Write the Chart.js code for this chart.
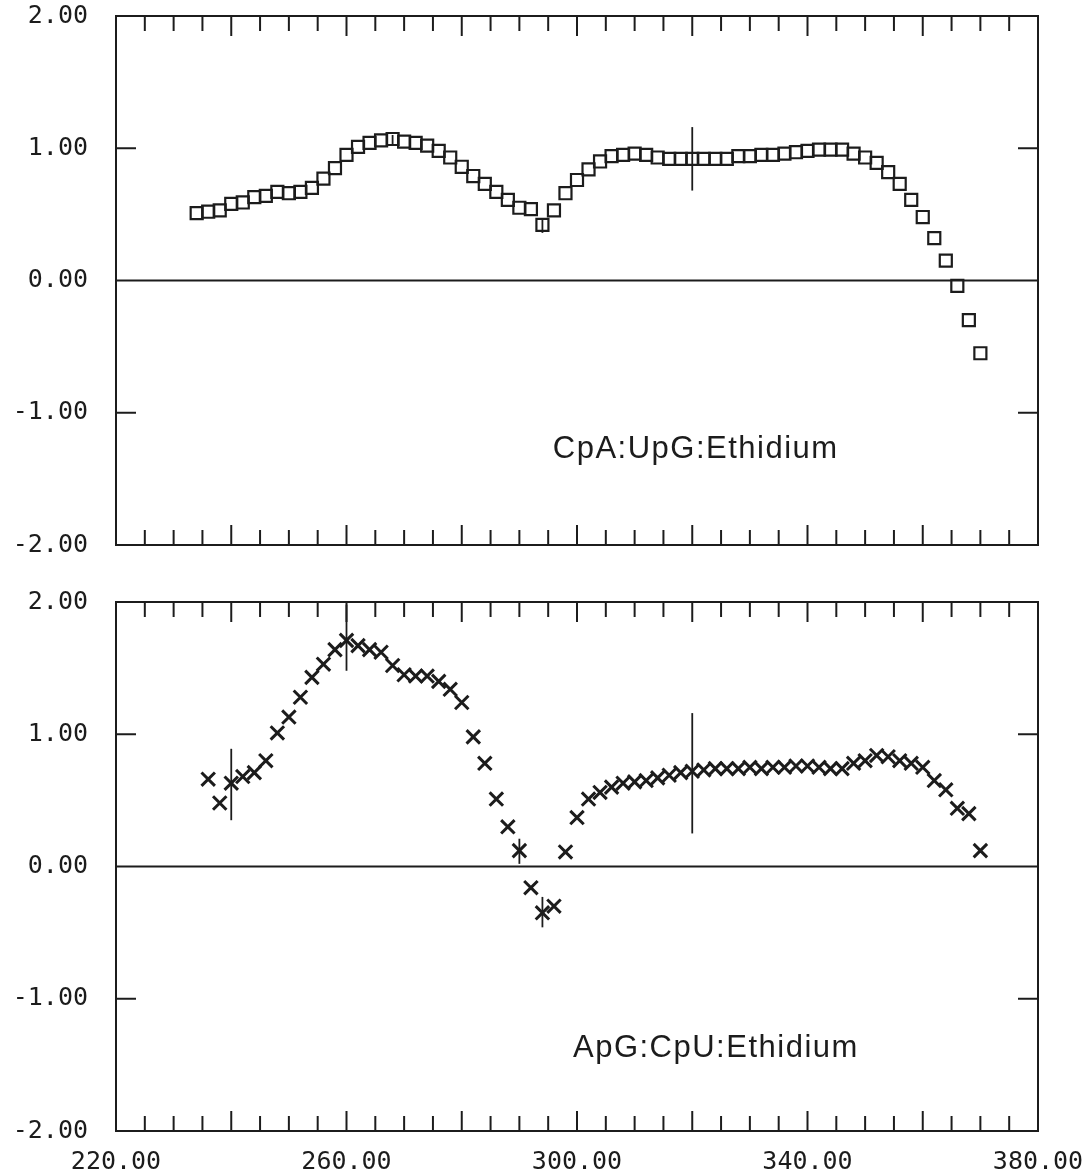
<!DOCTYPE html>
<html>
<head>
<meta charset="utf-8">
<script src="https://cdn.jsdelivr.net/npm/chart.js@4.4.1/dist/chart.umd.min.js"></script>
<style>
  html, body { margin: 0; padding: 0; background: #fff; }
  #wrap { position: relative; width: 1091px; height: 1172px; }
  canvas { position: absolute; left: 0; }
  #top { top: 0; }
  #bottom { top: 575px; }
</style>
</head>
<body>
<div id="wrap">
  <canvas id="top" width="1091" height="575"></canvas>
  <canvas id="bottom" width="1091" height="597"></canvas>
</div>
<script>
// --- data ---
const topX = [234, 236, 238, 240, 242, 244, 246, 248, 250, 252, 254, 256, 258, 260, 262, 264, 266, 268,
  270, 272, 274, 276, 278, 280, 282, 284, 286, 288, 290, 292, 294, 296, 298, 300, 302, 304, 306, 308,
  310, 312, 314, 316, 318, 320, 322, 324, 326, 328, 330, 332, 334, 336, 338, 340, 342, 344, 346, 348,
  350, 352, 354, 356, 358, 360, 362, 364, 366, 368, 370];
const topY = [0.51, 0.52, 0.53, 0.58, 0.59, 0.63, 0.64, 0.67, 0.66, 0.67, 0.70, 0.77, 0.85, 0.95, 1.01, 1.04, 1.06, 1.07,
  1.05, 1.04, 1.02, 0.98, 0.93, 0.86, 0.79, 0.73, 0.67, 0.61, 0.55, 0.54, 0.42, 0.53, 0.66, 0.76, 0.84, 0.90, 0.94, 0.95,
  0.96, 0.95, 0.93, 0.92, 0.92, 0.92, 0.92, 0.92, 0.92, 0.94, 0.94, 0.95, 0.95, 0.96, 0.97, 0.98, 0.99, 0.99, 0.99, 0.96,
  0.93, 0.89, 0.82, 0.73, 0.61, 0.48, 0.32, 0.15, -0.04, -0.30, -0.55];

const bottomX = [236, 238, 240, 242, 244, 246, 248, 250, 252, 254, 256, 258, 260, 262, 264, 266, 268,
  270, 272, 274, 276, 278, 280, 282, 284, 286, 288, 290, 292, 294, 296, 298, 300, 302, 304, 306, 308,
  310, 312, 314, 316, 318, 320, 322, 324, 326, 328, 330, 332, 334, 336, 338, 340, 342, 344, 346, 348,
  350, 352, 354, 356, 358, 360, 362, 364, 366, 368, 370];
const bottomY = [0.66, 0.48, 0.63, 0.68, 0.71, 0.80, 1.01, 1.13, 1.28, 1.43, 1.53, 1.64, 1.71, 1.67, 1.64, 1.62, 1.52,
  1.45, 1.44, 1.44, 1.40, 1.34, 1.24, 0.98, 0.78, 0.51, 0.30, 0.12, -0.16, -0.35, -0.30, 0.11, 0.37, 0.51, 0.56, 0.60, 0.63,
  0.64, 0.65, 0.67, 0.69, 0.71, 0.72, 0.73, 0.74, 0.74, 0.74, 0.75, 0.74, 0.75, 0.75, 0.76, 0.76, 0.75, 0.74, 0.74, 0.78,
  0.80, 0.84, 0.83, 0.80, 0.78, 0.75, 0.65, 0.58, 0.44, 0.40, 0.12];

// error bars: x, low, high
const topErrX = [268, 294, 320];
const topErrLo = [1.03, 0.36, 0.68];
const topErrHi = [1.10, 0.47, 1.16];
const bottomErrX = [240, 260, 290, 294, 320];
const bottomErrLo = [0.35, 1.48, 0.02, -0.46, 0.25];
const bottomErrHi = [0.89, 1.98, 0.21, -0.23, 1.16];

// axes
const xLabelTicks = [220, 260, 300, 340, 380];
const yLabelTicks = [-2, -1, 0, 1, 2];
const edgeTicks = [225, 230, 235, 240, 245, 250, 255, 260, 265, 270, 275, 280, 285, 290, 295, 300,
  305, 310, 315, 320, 325, 330, 335, 340, 345, 350, 355, 360, 365, 370, 375];
const majorEdgeTicks = [240, 260, 280, 300, 320, 340, 360];
const sideTicks = [-1, 1];

const topLabel = 'CpA:UpG:Ethidium';
const bottomLabel = 'ApG:CpU:Ethidium';

const INK = '#1c1c1c';
const NUM_FONT = { family: "'DejaVu Sans Mono', monospace", size: 25 };

// frame, inward ticks, zero line, error bars and panel caption
const framePlugin = {
  id: 'frame',
  afterDatasetsDraw(chart, args, opts) {
    const { ctx, chartArea: a, scales: { x, y } } = chart;
    const line = (x1, y1, x2, y2) => { ctx.beginPath(); ctx.moveTo(x1, y1); ctx.lineTo(x2, y2); ctx.stroke(); };
    ctx.save();
    ctx.strokeStyle = INK;
    ctx.lineWidth = 2;
    ctx.strokeRect(a.left, a.top, a.right - a.left, a.bottom - a.top);

    const y0 = y.getPixelForValue(0);
    line(a.left, y0, a.right, y0);

    edgeTicks.forEach(v => {
      const px = x.getPixelForValue(v);
      const len = majorEdgeTicks.includes(v) ? 20 : 15;
      line(px, a.top, px, a.top + len);
      line(px, a.bottom, px, a.bottom - len);
    });
    sideTicks.forEach(v => {
      const py = y.getPixelForValue(v);
      line(a.left, py, a.left + 20, py);
      line(a.right, py, a.right - 20, py);
    });

    ctx.lineWidth = 1.8;
    opts.errX.forEach((v, i) => {
      const px = x.getPixelForValue(v);
      line(px, y.getPixelForValue(opts.errLo[i]), px, y.getPixelForValue(opts.errHi[i]));
    });

    ctx.fillStyle = INK;
    ctx.font = "31px 'Liberation Sans', Arial, sans-serif";
    ctx.letterSpacing = '1.5px';
    ctx.textAlign = 'left';
    ctx.textBaseline = 'alphabetic';
    ctx.fillText(opts.label, x.getPixelForValue(opts.labelX), y.getPixelForValue(opts.labelY));
    ctx.restore();
  }
};

function drawPanel(canvasId, xs, ys, style, errs, label, labelX, labelY, showX, padding) {
  const pts = xs.map((v, i) => ({ x: v, y: ys[i] }));
  const isRect = style === 'rect';
  return new Chart(document.getElementById(canvasId), {
    type: 'scatter',
    data: {
      datasets: [{
        data: pts,
        pointStyle: style,
        pointRadius: isRect ? 8.5 : 9.5,
        borderWidth: isRect ? 2.2 : 3,
        borderColor: INK,
        backgroundColor: 'rgba(0,0,0,0)',
        showLine: false,
        clip: false,
      }]
    },
    options: {
      responsive: false,
      animation: false,
      layout: { autoPadding: false, padding },
      plugins: {
        legend: { display: false },
        tooltip: { enabled: false },
        frame: { errX: errs[0], errLo: errs[1], errHi: errs[2], label, labelX, labelY },
      },
      scales: {
        x: {
          type: 'linear',
          min: 220,
          max: 380,
          display: showX,
          grid: { display: false, drawTicks: false },
          border: { display: false },
          afterBuildTicks: s => { s.ticks = xLabelTicks.map(v => ({ value: v })); },
          // keep the plot area fixed: no extra room for edge labels
          afterFit: s => { s.height = showX ? 41 : 0; s.paddingLeft = 0; s.paddingRight = 0; },
          ticks: {
            padding: 16,
            color: INK,
            font: NUM_FONT,
            maxRotation: 0,
            autoSkip: false,
            callback: v => Number(v).toFixed(2),
          },
        },
        y: {
          type: 'linear',
          min: -2,
          max: 2,
          grid: { display: false, drawTicks: false },
          border: { display: false },
          afterBuildTicks: s => { s.ticks = yLabelTicks.map(v => ({ value: v })); },
          afterFit: s => { s.width = 116; s.paddingTop = 0; s.paddingBottom = 0; },
          ticks: {
            padding: 28,
            color: INK,
            font: NUM_FONT,
            callback: v => Number(v).toFixed(2),
          },
        },
      },
    },
    plugins: [framePlugin],
  });
}

drawPanel('top', topX, topY, 'rect', [topErrX, topErrLo, topErrHi], topLabel, 295.8, -1.34, false,
  { top: 16, right: 53, bottom: 30, left: 0 });
drawPanel('bottom', bottomX, bottomY, 'crossRot', [bottomErrX, bottomErrLo, bottomErrHi], bottomLabel, 299.3, -1.44, true,
  { top: 27, right: 53, bottom: 0, left: 0 });
</script>
</body>
</html>
